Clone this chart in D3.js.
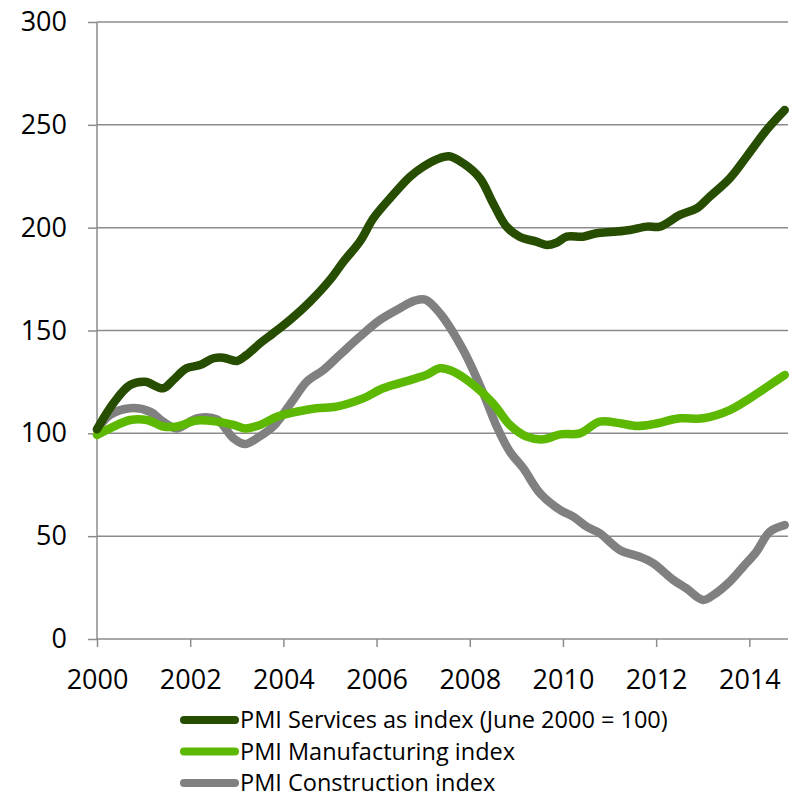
<!DOCTYPE html>
<html>
<head>
<meta charset="utf-8">
<script src="https://cdn.jsdelivr.net/npm/d3@7"></script>
<style>
  body { margin: 0; background: #fff; }
  text { font-family: "Open Sans", "DejaVu Sans", sans-serif; fill: #000; }
</style>
</head>
<body>
<div id="chart"></div>
<script>
// series values (year as decimal, index value)
var servicesYears  = [2000.0, 2000.35, 2000.71, 2001.03, 2001.42, 2001.64, 2001.92, 2002.21, 2002.5, 2002.71, 2003.0, 2003.21, 2003.5, 2003.78, 2004.14, 2004.57, 2005.0, 2005.29, 2005.64, 2005.93, 2006.29, 2006.72, 2007.0, 2007.29, 2007.56, 2007.86, 2008.22, 2008.5, 2008.79, 2009.07, 2009.43, 2009.65, 2009.86, 2010.08, 2010.43, 2010.72, 2011.08, 2011.44, 2011.8, 2012.08, 2012.51, 2012.87, 2013.15, 2013.58, 2013.94, 2014.37, 2014.76];
var servicesValues = [102, 114.6, 123.5, 125.1, 121.9, 126, 131.6, 133.2, 136.5, 136.8, 135.2, 138.1, 143.8, 148.6, 155.1, 164, 174.6, 183.5, 193.2, 204.5, 214.3, 224.8, 229.6, 233.2, 234.7, 231.3, 224, 211.9, 200.5, 195.6, 193.2, 191.6, 192.7, 195.6, 195.6, 197.3, 198, 198.9, 200.5, 200.5, 206.2, 209.4, 215.1, 224, 234.5, 247.5, 257.2];

var manufYears  = [2000.0, 2000.28, 2000.71, 2001.07, 2001.42, 2001.71, 2002.14, 2002.57, 2002.93, 2003.18, 2003.5, 2003.86, 2004.28, 2004.71, 2005.14, 2005.71, 2006.14, 2006.72, 2007.07, 2007.36, 2007.65, 2008.08, 2008.5, 2008.86, 2009.22, 2009.58, 2009.94, 2010.36, 2010.79, 2011.22, 2011.58, 2011.94, 2012.51, 2013.01, 2013.58, 2014.01, 2014.44, 2014.76];
var manufValues = [99.2, 102.4, 106.5, 106.5, 103.3, 103.3, 106.2, 105.7, 104.1, 102.4, 104.1, 108.1, 110.5, 112.2, 113, 117, 121.9, 125.9, 128.4, 131.6, 130, 123.5, 114.6, 104.1, 98.4, 97.1, 99.5, 100, 105.7, 104.9, 103.6, 104.5, 107.3, 107.3, 111.3, 117, 123.5, 128.4];

var constrYears  = [2000.0, 2000.28, 2000.71, 2001.14, 2001.42, 2001.71, 2002.14, 2002.57, 2002.93, 2003.18, 2003.43, 2003.78, 2004.21, 2004.5, 2004.86, 2005.21, 2005.64, 2006.07, 2006.5, 2006.82, 2007.05, 2007.36, 2007.86, 2008.29, 2008.58, 2008.86, 2009.15, 2009.51, 2009.94, 2010.22, 2010.51, 2010.79, 2011.22, 2011.65, 2011.94, 2012.37, 2012.65, 2013.01, 2013.23, 2013.58, 2013.87, 2014.15, 2014.44, 2014.76];
var constrValues = [101.6, 108.9, 112.2, 110.5, 105.7, 102.4, 107.3, 106.8, 97.6, 94.8, 97.6, 103.3, 116.2, 125.1, 130.8, 138.1, 147, 155.1, 160.8, 164.5, 165, 158.4, 140.5, 119.5, 103.3, 91.1, 83, 70.8, 62.7, 59.5, 54.6, 51.4, 43.3, 40, 36.8, 28.7, 24.6, 19, 21.4, 27.9, 35.2, 42.4, 52.2, 55.4];

var seriesNames  = ["PMI Services as index (June 2000 = 100)", "PMI Manufacturing index", "PMI Construction index"];
var seriesColors = ["#264d00", "#5cb800", "#808080"];
var yTicks = [0, 50, 100, 150, 200, 250, 300];
var xTicks = [2000, 2002, 2004, 2006, 2008, 2010, 2012, 2014];

var W = 792, H = 797;
var margin = {top: 22, right: 4, bottom: 158, left: 97};

var svg = d3.select("#chart").append("svg")
    .attr("width", W)
    .attr("height", H);

var x = d3.scaleLinear().domain([2000, 2014.83]).range([margin.left, W - margin.right]);
var y = d3.scaleLinear().domain([0, 300]).range([H - margin.bottom, margin.top]);

var gridColor = "#8c8c8c";

// horizontal gridlines
svg.append("g")
  .selectAll("line")
  .data(yTicks.filter(d => d > 0))
  .enter().append("line")
    .attr("x1", x.range()[0]).attr("x2", x.range()[1])
    .attr("y1", d => y(d)).attr("y2", d => y(d))
    .attr("stroke", gridColor)
    .attr("stroke-width", 1.5);

// y axis
var yAxis = svg.append("g")
  .attr("transform", "translate(" + margin.left + ",0)")
  .call(d3.axisLeft(y).tickValues(yTicks).tickSize(9).tickPadding(21));
yAxis.selectAll("path, line").attr("stroke", gridColor).attr("stroke-width", 1.5);
yAxis.select(".domain").attr("d", "M0," + y(300) + "V" + y(0));
yAxis.selectAll("text").attr("font-size", 27).attr("font-family", null);

// x axis
var xAxis = svg.append("g")
  .attr("transform", "translate(0," + y(0) + ")")
  .call(d3.axisBottom(x).tickValues(xTicks).tickFormat(d3.format("d")).tickSize(8).tickPadding(23));
xAxis.selectAll("path, line").attr("stroke", gridColor).attr("stroke-width", 1.5);
xAxis.select(".domain").attr("d", "M" + x.range()[0] + ",0H" + x.range()[1]);
xAxis.selectAll("text").attr("font-size", 27).attr("font-family", null);

// lines
var allSeries = [
  d3.zip(servicesYears, servicesValues),
  d3.zip(manufYears, manufValues),
  d3.zip(constrYears, constrValues)
];

var line = d3.line()
  .x(d => x(d[0]))
  .y(d => y(d[1]))
  .curve(d3.curveCatmullRom.alpha(0.5));

// draw construction first so services sits on top, as in the picture
[2, 1, 0].forEach(function(i) {
  svg.append("path")
    .datum(allSeries[i])
    .attr("d", line)
    .attr("fill", "none")
    .attr("stroke", seriesColors[i])
    .attr("stroke-width", 8.5)
    .attr("stroke-linecap", "round")
    .attr("stroke-linejoin", "round");
});

// legend
var legend = svg.append("g");
seriesNames.forEach(function(name, i) {
  var ly = 720 + i * 31.5;
  legend.append("line")
    .attr("x1", 184).attr("x2", 235)
    .attr("y1", ly).attr("y2", ly)
    .attr("stroke", seriesColors[i])
    .attr("stroke-width", 8)
    .attr("stroke-linecap", "round");
  legend.append("text")
    .attr("x", 240)
    .attr("y", ly)
    .attr("dy", "0.35em")
    .attr("font-size", 23.5)
    .text(name);
});
</script>
</body>
</html>
